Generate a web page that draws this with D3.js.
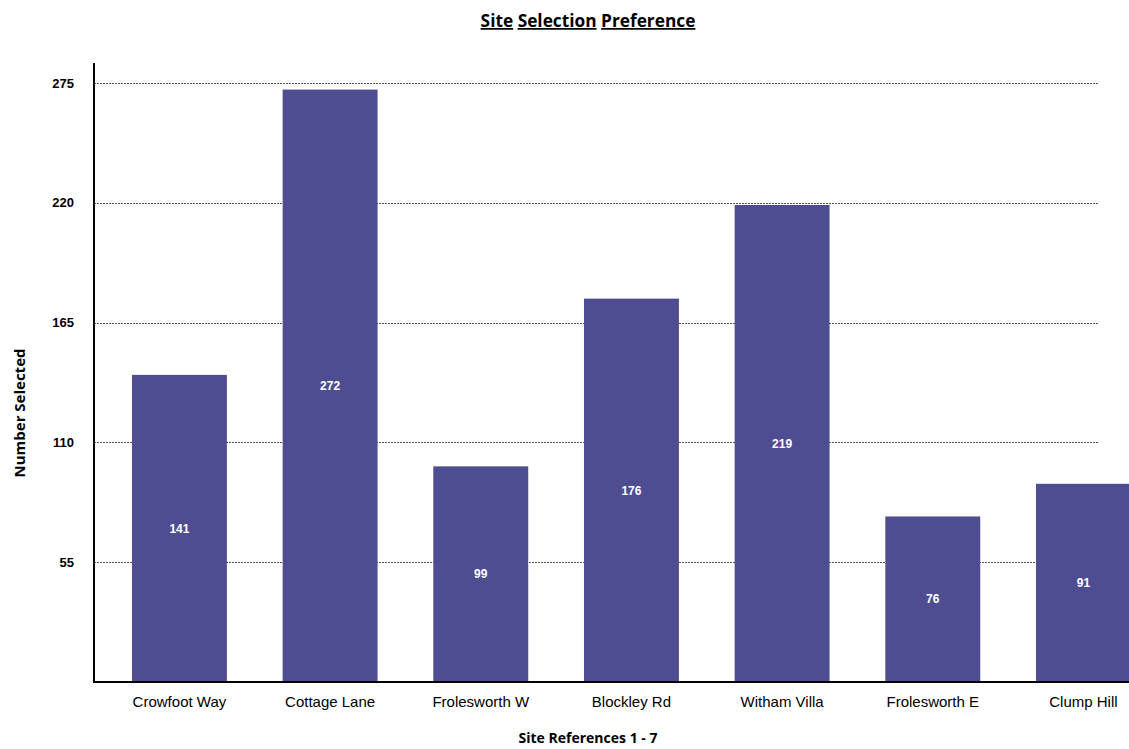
<!DOCTYPE html>
<html>
<head>
<meta charset="utf-8">
<script src="https://cdn.jsdelivr.net/npm/d3@7"></script>
<style>
  html, body { margin: 0; padding: 0; background: #fff; }
  svg { display: block; }
</style>
</head>
<body>
<svg id="chart" width="1129" height="749"></svg>
<script>
// Sites and how many respondents selected each one
const sites = ["Crowfoot Way", "Cottage Lane", "Frolesworth W", "Blockley Rd", "Witham Villa", "Frolesworth E", "Clump Hill"];
const selected = [141, 272, 99, 176, 219, 76, 91];
const yTicks = [55, 110, 165, 220, 275];

const svg = d3.select("#chart");
const W = 1129, H = 749;

const plot = { left: 94, top: 63, bottom: 682, gridRight: 1098 };

const x = d3.scaleBand()
  .domain(sites)
  .range([plot.left, plot.left + 150.67 * (7 - 0.37 + 2 * 0.252)])
  .paddingInner(0.37)
  .paddingOuter(0.252);

const y = d3.scaleLinear().domain([0, 275]).range([plot.bottom, 83]);

// Dotted horizontal grid lines
svg.append("g")
  .selectAll("line")
  .data(yTicks)
  .join("line")
  .attr("x1", plot.left)
  .attr("x2", plot.gridRight)
  .attr("y1", d => Math.round(y(d)) + 0.5)
  .attr("y2", d => Math.round(y(d)) + 0.5)
  .attr("stroke", "#555")
  .attr("stroke-width", 1)
  .attr("stroke-dasharray", "2,1");

// Y axis tick labels
const yAxis = d3.axisLeft(y).tickValues(yTicks).tickSize(0).tickPadding(20);
const gy = svg.append("g").attr("transform", `translate(${plot.left},0)`).call(yAxis);
gy.select(".domain").remove();
gy.selectAll("text")
  .attr("font-family", "Liberation Sans, Arial, sans-serif")
  .attr("font-size", 13)
  .attr("font-weight", "bold")
  .attr("fill", "#000");

// Bars
svg.append("g")
  .selectAll("rect")
  .data(sites)
  .join("rect")
  .attr("x", d => x(d))
  .attr("width", x.bandwidth())
  .attr("y", (d, i) => y(selected[i]))
  .attr("height", (d, i) => y(0) - y(selected[i]))
  .attr("fill", "#4f4d91");

// Value labels centred in each bar
svg.append("g")
  .selectAll("text")
  .data(sites)
  .join("text")
  .attr("x", d => x(d) + x.bandwidth() / 2)
  .attr("y", (d, i) => (y(selected[i]) + y(0)) / 2)
  .attr("dy", "0.35em")
  .attr("text-anchor", "middle")
  .attr("font-family", "Liberation Sans, Arial, sans-serif")
  .attr("font-size", 12)
  .attr("font-weight", "bold")
  .attr("fill", "#fff")
  .text((d, i) => selected[i]);

// Axis lines
svg.append("line")
  .attr("x1", plot.left).attr("x2", plot.left)
  .attr("y1", plot.top).attr("y2", plot.bottom + 1)
  .attr("stroke", "#000").attr("stroke-width", 2);
svg.append("line")
  .attr("x1", plot.left - 1).attr("x2", W)
  .attr("y1", plot.bottom).attr("y2", plot.bottom)
  .attr("stroke", "#000").attr("stroke-width", 2);

// Category labels
const xAxis = d3.axisBottom(x).tickSize(0).tickPadding(14);
const gx = svg.append("g").attr("transform", `translate(0,${plot.bottom})`).call(xAxis);
gx.select(".domain").remove();
gx.selectAll("text")
  .attr("font-family", "Liberation Sans, Arial, sans-serif")
  .attr("font-size", 15)
  .attr("fill", "#000");

// Title with each word underlined
const title = svg.append("text")
  .attr("x", 588)
  .attr("y", 27)
  .attr("text-anchor", "middle")
  .attr("font-family", "Open Sans, Liberation Sans, sans-serif")
  .attr("font-size", 17.3)
  .attr("font-weight", "bold")
  .attr("fill", "#000");
["Site", "Selection", "Preference"].forEach((w, i) => {
  if (i > 0) title.append("tspan").text(" ");
  title.append("tspan").attr("text-decoration", "underline").text(w);
});

// Axis titles
svg.append("text")
  .attr("transform", "translate(25,413) rotate(-90)")
  .attr("text-anchor", "middle")
  .attr("font-family", "Open Sans, Liberation Sans, sans-serif")
  .attr("font-size", 15)
  .attr("font-weight", "bold")
  .attr("fill", "#000")
  .text("Number Selected");

svg.append("text")
  .attr("x", 588)
  .attr("y", 743)
  .attr("text-anchor", "middle")
  .attr("font-family", "Open Sans, Liberation Sans, sans-serif")
  .attr("font-size", 14)
  .attr("font-weight", "bold")
  .attr("fill", "#000")
  .text("Site References 1 - 7");
</script>
</body>
</html>
